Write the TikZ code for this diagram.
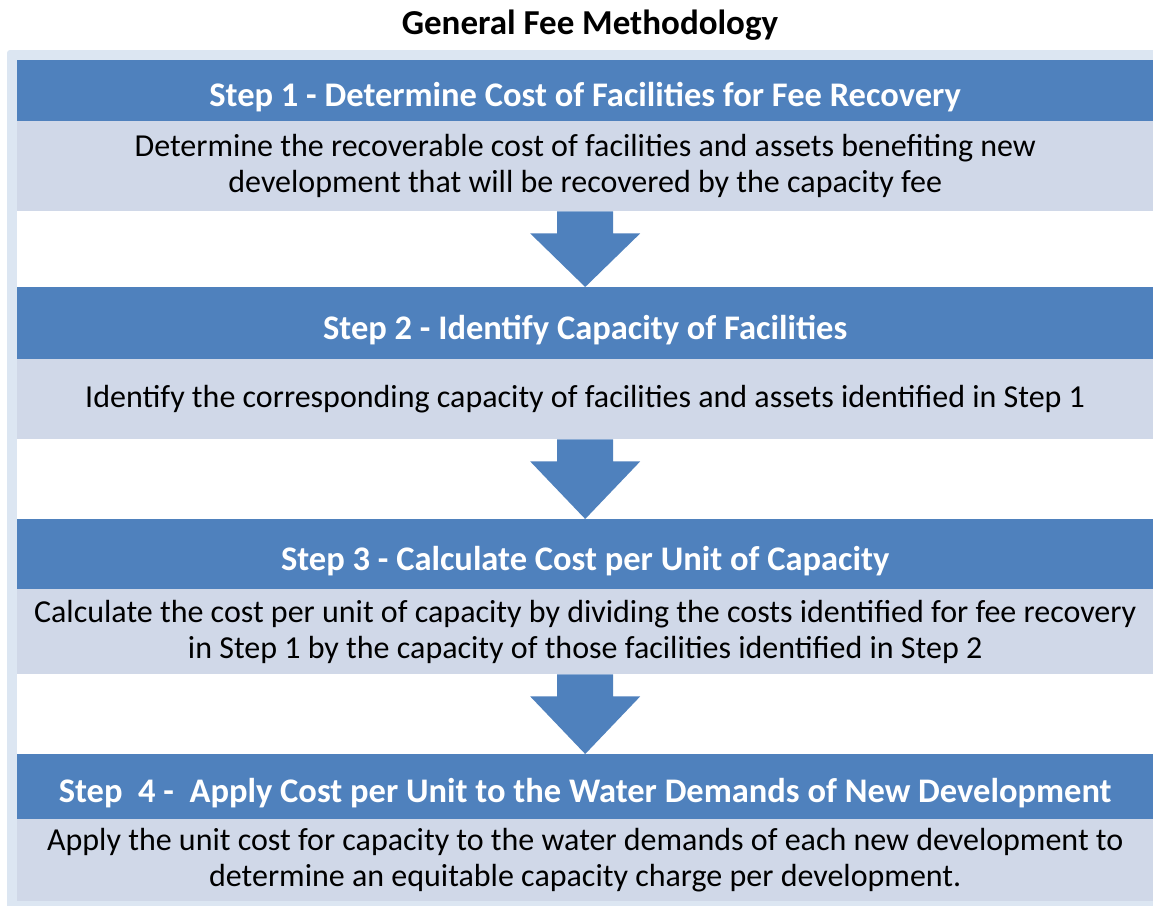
\documentclass[tikz,border=0pt]{standalone}
\usepackage{fontspec}
\setmainfont{Carlito}
\usepackage{tikz}
\usetikzlibrary{calc}

\definecolor{headBlue}{HTML}{4F81BD}
\definecolor{bodyGrey}{HTML}{D0D8E8}
\definecolor{frameBlue}{HTML}{DCE6F2}

% block arrow from the bottom of one step to the top of the next
\newcommand{\stepArrow}[2]{%
  \fill[arrowFill] ($(#1.south)+(-28,0)$) -- ($(#1.south)+(28,0)$)
    -- ($(#1.south)+(28,22)$) -- ($(#1.south)+(55,22)$)
    -- (#2.north) -- ($(#1.south)+(-55,22)$)
    -- ($(#1.south)+(-28,22)$) -- cycle;}

\begin{document}
\begin{tikzpicture}[
    x=1pt, y=-1pt,
    stepHead/.style={
        rectangle, fill=headBlue, text=white, anchor=north west,
        minimum width=1136pt, inner sep=0pt, align=center,
        text height=32pt, text depth=0pt,
        font=\fontsize{34.5}{40}\selectfont\bfseries
    },
    stepBody/.style={
        rectangle, fill=bodyGrey, text=black, anchor=north west,
        minimum width=1136pt, inner sep=0pt, align=center,
        font=\fontsize{32}{36}\selectfont
    },
    arrowFill/.style={fill=headBlue}
]
\useasboundingbox (0,0) rectangle (1153,905);

% Frame round the steps
\fill[frameBlue, rounded corners=3pt] (7,50) rectangle (1170,920);
\fill[white] (17,60) rectangle (1170,901);

% Title
\node[font=\fontsize{35}{40}\selectfont\bfseries] (title) at (590,25) {General Fee Methodology};

% Step 1
\node[stepHead, minimum height=61pt] (head1) at (17,60) {Step 1 - Determine Cost of Facilities for Fee Recovery};
\node[stepBody, minimum height=90pt] (body1) at (17,121) {Determine the recoverable cost of facilities and assets benefiting new\\development that will be recovered by the capacity fee};

% Step 2
\node[stepHead, minimum height=72pt] (head2) at (17,287) {Step 2 - Identify Capacity of Facilities};
\node[stepBody, minimum height=80pt] (body2) at (17,359) {Identify the corresponding capacity of facilities and assets identified in Step 1};

% Step 3
\node[stepHead, minimum height=70pt] (head3) at (17,519) {Step 3 - Calculate Cost per Unit of Capacity};
\node[stepBody, minimum height=85pt] (body3) at (17,589) {Calculate the cost per unit of capacity by dividing the costs identified for fee recovery\\in Step 1 by the capacity of those facilities identified in Step 2};

% Step 4
\node[stepHead, minimum height=65pt] (head4) at (17,754) {Step~~4 -~~Apply Cost per Unit to the Water Demands of New Development};
\node[stepBody, minimum height=82pt] (body4) at (17,819) {Apply the unit cost for capacity to the water demands of each new development to\\determine an equitable capacity charge per development.};

% Arrows between steps
\stepArrow{body1}{head2}
\stepArrow{body2}{head3}
\stepArrow{body3}{head4}

\end{tikzpicture}
\end{document}
